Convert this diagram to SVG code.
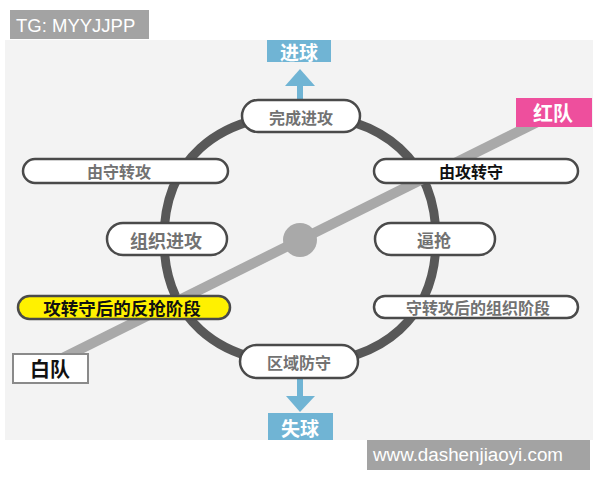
<svg xmlns="http://www.w3.org/2000/svg" width="600" height="480" viewBox="0 0 600 480">
<style>
.pill{fill:#ffffff;stroke:#4a4a4a;stroke-width:2.5}
.cn{font-family:"Noto Sans CJK SC","Noto Sans",sans-serif;font-weight:700;text-anchor:middle;dominant-baseline:central}
.gray{fill:#727272}
.dark{fill:#111111}
.white{fill:#ffffff}
.blue{fill:#70b4d4}
.wm{fill:#a3a3a3}
.wmt{font-family:"Liberation Sans",Arial,sans-serif;fill:#ffffff}
</style>
<rect x="0" y="0" width="600" height="480" fill="#ffffff"/>
<rect x="5" y="40" width="588" height="400" fill="#f3f3f3"/>

<g id="ring">
<path d="M164,239 C164,162.1 215.7,115 300,115 C384.3,115 436,162.1 436,239 C436,315.9 384.3,363 300,363 C215.7,363 164,315.9 164,239 Z" fill="none" stroke="#585858" stroke-width="9"/>
</g>

<g id="connectors">
<line x1="60" y1="359.3" x2="540" y2="120.7" stroke="#a9a9a9" stroke-width="10"/>
<rect class="blue" x="297" y="84" width="6" height="18"/>
<polygon class="blue" points="285,86 315,86 300,69"/>
<rect class="blue" x="297" y="377" width="6" height="21"/>
<polygon class="blue" points="286,396 315,396 300,412"/>
</g>

<g id="center">
<circle cx="300" cy="240" r="17" fill="#a9a9a9"/>
</g>

<g id="goal">
<rect class="blue" x="267" y="40" width="64" height="22"/>
<text class="cn white" x="299" y="51" font-size="19">进球</text>
</g>
<g id="lose">
<rect class="blue" x="268" y="413" width="65" height="27"/>
<text class="cn white" x="300" y="427" font-size="19">失球</text>
</g>

<g id="complete-attack">
<rect class="pill" x="242" y="100" width="118" height="32" rx="16"/>
<text class="cn gray" x="301" y="116.5" font-size="16">完成进攻</text>
</g>
<g id="def-to-att">
<rect class="pill" x="23" y="159" width="205" height="24" rx="12"/>
<text class="cn gray" x="119" y="171" font-size="16">由守转攻</text>
</g>
<g id="att-to-def">
<rect class="pill" x="374" y="159" width="204" height="24" rx="12"/>
<text class="cn dark" x="471" y="171" font-size="16">由攻转守</text>
</g>
<g id="organize-attack">
<rect class="pill" x="107" y="223" width="120" height="32" rx="16"/>
<text class="cn gray" x="166" y="239.5" font-size="18">组织进攻</text>
</g>
<g id="press">
<rect class="pill" x="375" y="223" width="120" height="32" rx="16"/>
<text class="cn gray" x="434" y="239.5" font-size="17">逼抢</text>
</g>
<g id="counter-press">
<rect x="18" y="296" width="212" height="23" rx="11.5" fill="#fff100" stroke="#4a4a4a" stroke-width="2.5"/>
<text class="cn dark" x="122" y="307.5" font-size="17.5">攻转守后的反抢阶段</text>
</g>
<g id="organize-phase">
<rect class="pill" x="374" y="296" width="204" height="22" rx="11"/>
<text class="cn gray" x="478" y="307" font-size="16">守转攻后的组织阶段</text>
</g>
<g id="zone-defense">
<rect class="pill" x="240" y="345" width="118" height="33" rx="16.5"/>
<text class="cn gray" x="299" y="361.5" font-size="16">区域防守</text>
</g>

<g id="red-team">
<rect x="516" y="98" width="76" height="29" fill="#ee4f9d"/>
<text class="cn white" x="553" y="112.5" font-size="20">红队</text>
</g>
<g id="white-team">
<rect x="13" y="354" width="75" height="29" fill="#ffffff" stroke="#8a8a8a" stroke-width="2"/>
<text class="cn dark" x="50" y="368.5" font-size="20">白队</text>
</g>

<g id="watermark-top">
<rect class="wm" x="10" y="10" width="139" height="29"/>
<text class="wmt" x="16" y="32" font-size="18.5">TG: MYYJJPP</text>
</g>
<g id="watermark-bottom">
<rect class="wm" x="367" y="440" width="223" height="30"/>
<text class="wmt" x="373" y="461" font-size="18.8">www.dashenjiaoyi.com</text>
</g>
</svg>
